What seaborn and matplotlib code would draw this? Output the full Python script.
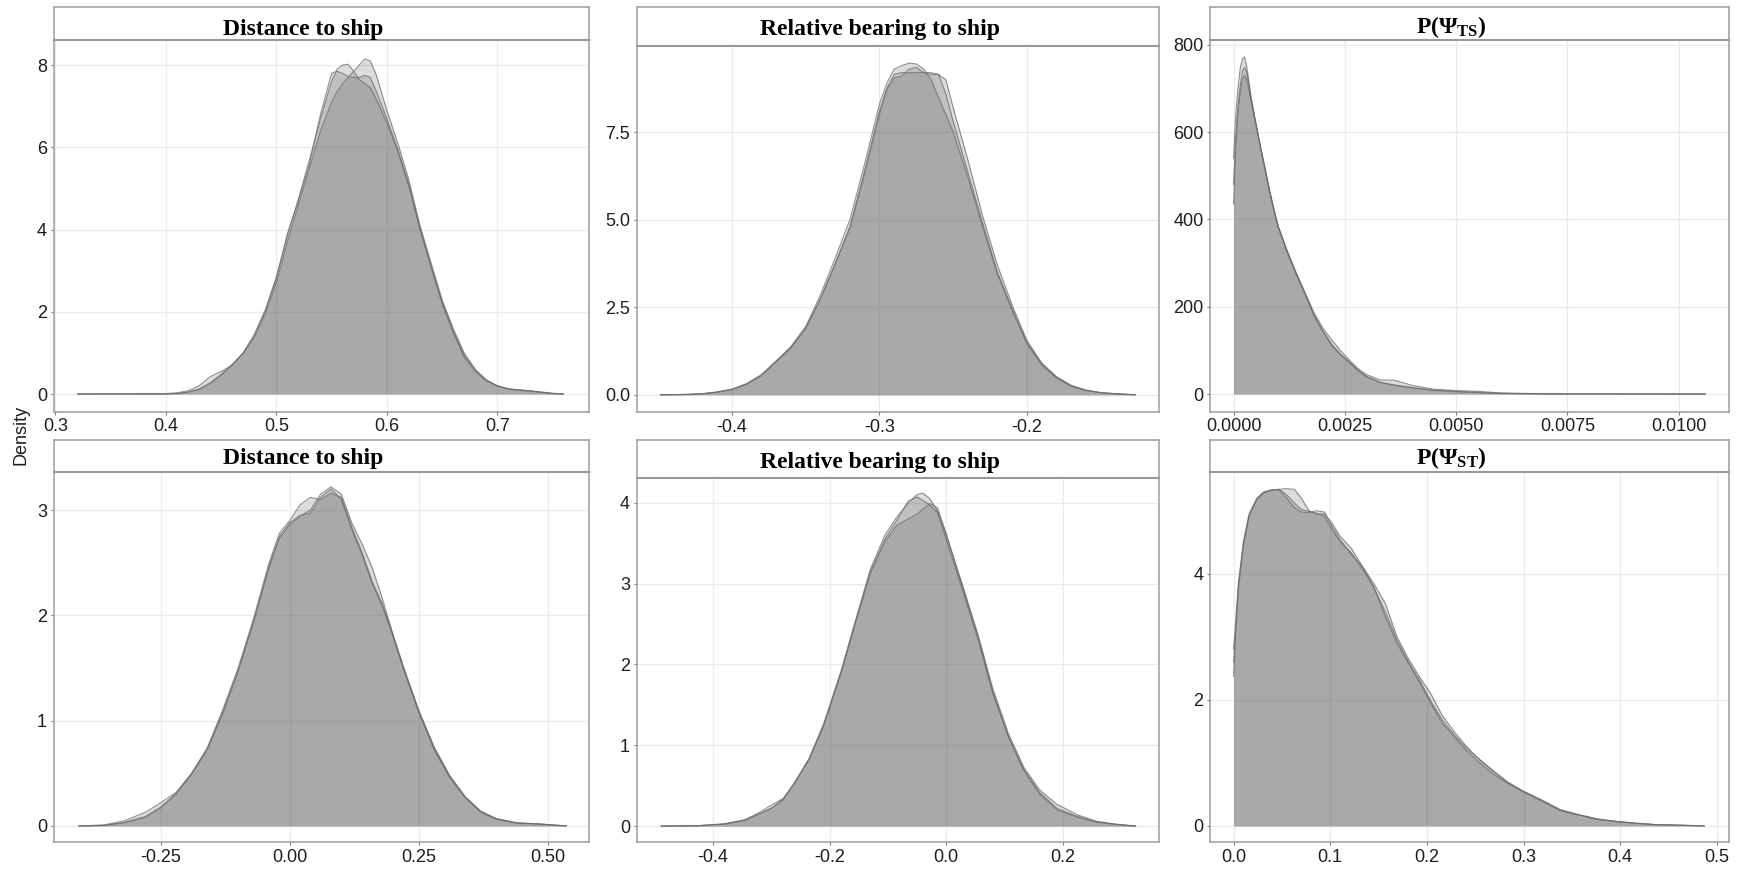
import matplotlib
matplotlib.use("Agg")
import matplotlib.pyplot as plt
import seaborn as sns

# ---------------- data ----------------
# Panel 1: Distance to ship (top)
dist_top_x = [0.32, 0.40, 0.41, 0.42, 0.43, 0.44, 0.45, 0.46, 0.47, 0.48, 0.49, 0.50, 0.51, 0.52,
              0.53, 0.54, 0.55, 0.555, 0.56, 0.565, 0.57, 0.575, 0.58, 0.585, 0.59, 0.60, 0.61,
              0.62, 0.63, 0.64, 0.65, 0.66, 0.67, 0.68, 0.69, 0.70, 0.71, 0.72, 0.73, 0.74, 0.75, 0.76]
dist_top_c1 = [0, 0, 0.01, 0.05, 0.12, 0.27, 0.48, 0.72, 1.0, 1.4, 2.0, 2.8, 3.9, 4.7,
               5.6, 6.8, 7.8, 7.85, 7.8, 7.72, 7.7, 7.7, 7.75, 7.7, 7.4, 6.7, 5.95,
               5.1, 4.0, 3.1, 2.2, 1.5, 0.9, 0.55, 0.32, 0.2, 0.12, 0.1, 0.08, 0.05, 0.02, 0.0]
dist_top_c2 = [0, 0.01, 0.03, 0.08, 0.2, 0.42, 0.55, 0.7, 1.0, 1.45, 2.05, 2.85, 3.85, 4.75,
               5.7, 6.7, 7.6, 7.9, 8.0, 8.02, 7.85, 7.65, 7.55, 7.45, 7.2, 6.6, 5.9,
               5.05, 4.05, 3.1, 2.25, 1.55, 0.95, 0.6, 0.35, 0.2, 0.13, 0.1, 0.07, 0.04, 0.01, 0.0]
dist_top_c3 = [0, 0, 0.01, 0.04, 0.11, 0.25, 0.45, 0.7, 0.98, 1.38, 1.95, 2.7, 3.7, 4.6,
               5.5, 6.4, 7.1, 7.35, 7.55, 7.7, 7.85, 8.0, 8.15, 8.1, 7.8, 6.9, 6.1,
               5.2, 4.1, 3.2, 2.3, 1.6, 1.0, 0.6, 0.33, 0.2, 0.12, 0.09, 0.07, 0.04, 0.01, 0.0]

# Panel 2: Relative bearing to ship (top)
bear_top_x = [-0.4485, -0.43, -0.42, -0.41, -0.40, -0.39, -0.38, -0.37, -0.36, -0.35, -0.34, -0.33,
              -0.32, -0.31, -0.30, -0.295, -0.29, -0.285, -0.28, -0.275, -0.27, -0.265, -0.26,
              -0.255, -0.25, -0.24, -0.23, -0.22, -0.21, -0.20, -0.19, -0.18, -0.17, -0.16,
              -0.15, -0.14, -0.1265]
bear_top_c1 = [0, 0.01, 0.03, 0.08, 0.15, 0.3, 0.55, 0.95, 1.35, 1.9, 2.75, 3.75,
               4.8, 6.4, 8.1, 8.75, 9.15, 9.2, 9.2, 9.2, 9.2, 9.2, 9.15,
               8.6, 7.8, 6.35, 4.9, 3.5, 2.45, 1.45, 0.85, 0.48, 0.24, 0.12,
               0.06, 0.03, 0]
bear_top_c2 = [0, 0.01, 0.03, 0.08, 0.16, 0.32, 0.58, 0.97, 1.38, 1.95, 2.85, 3.9,
               5.0, 6.6, 8.3, 8.9, 9.3, 9.4, 9.47, 9.45, 9.3, 9.0, 8.5,
               8.0, 7.5, 6.2, 4.8, 3.45, 2.4, 1.5, 0.9, 0.52, 0.27, 0.13,
               0.06, 0.03, 0]
bear_top_c3 = [0, 0.01, 0.03, 0.07, 0.15, 0.3, 0.54, 0.93, 1.33, 1.88, 2.72, 3.72,
               4.75, 6.3, 8.0, 8.7, 9.05, 9.1, 9.3, 9.35, 9.2, 9.15, 9.15,
               9.0, 8.2, 6.7, 5.1, 3.7, 2.55, 1.55, 0.9, 0.5, 0.26, 0.13,
               0.06, 0.03, 0]

# Panel 3: P(Psi_TS)
psits_x = [0.0, 0.00005, 0.0001, 0.00015, 0.0002, 0.00025, 0.0003, 0.00035, 0.0004, 0.0005,
           0.0006, 0.0007, 0.0008, 0.0009, 0.001, 0.0012, 0.0014, 0.0016, 0.0018, 0.002,
           0.0022, 0.0024, 0.0026, 0.0028, 0.003, 0.0033, 0.0036, 0.004, 0.0045, 0.005,
           0.0055, 0.006, 0.0065, 0.007, 0.008, 0.009, 0.0106]
psits_c1 = [480, 590, 660, 705, 740, 748, 735, 705, 675, 620,
            568, 520, 470, 425, 385, 328, 278, 232, 183, 146,
            115, 92, 74, 55, 40, 27, 21, 15, 9, 6,
            4, 1.5, 0.8, 0.3, 0.1, 0.05, 0]
psits_c2 = [540, 640, 700, 745, 768, 772, 748, 712, 676, 622,
            570, 522, 472, 427, 386, 330, 280, 234, 188, 152,
            125, 100, 78, 58, 44, 32, 32, 20, 11, 8,
            6, 2.5, 1.5, 0.5, 0.2, 0.05, 0]
psits_c3 = [435, 560, 640, 690, 722, 730, 718, 695, 668, 618,
            566, 518, 468, 423, 383, 326, 276, 230, 181, 144,
            112, 90, 72, 53, 38, 26, 20, 14, 8, 5,
            3, 1.2, 0.6, 0.2, 0.1, 0.05, 0]

# Panel 4: Distance to ship (bottom)
dist_bot_x = [-0.409, -0.36, -0.32, -0.28, -0.25, -0.22, -0.19, -0.16, -0.13, -0.10, -0.07, -0.04,
              -0.02, 0.0, 0.02, 0.04, 0.06, 0.08, 0.10, 0.12, 0.14, 0.16, 0.18, 0.20, 0.22,
              0.25, 0.28, 0.31, 0.34, 0.37, 0.40, 0.44, 0.48, 0.536]
dist_bot_c1 = [0, 0.005, 0.035, 0.09, 0.18, 0.31, 0.5, 0.73, 1.08, 1.48, 1.95, 2.47,
               2.75, 2.88, 2.95, 2.97, 3.12, 3.2, 3.1, 2.82, 2.58, 2.3, 2.08, 1.8, 1.5,
               1.09, 0.74, 0.47, 0.27, 0.13, 0.065, 0.025, 0.02, 0]
dist_bot_c2 = [0, 0.01, 0.05, 0.13, 0.22, 0.32, 0.5, 0.74, 1.1, 1.5, 1.97, 2.5,
               2.78, 2.9, 3.05, 3.12, 3.1, 3.16, 3.12, 2.84, 2.6, 2.32, 2.1, 1.82, 1.52,
               1.1, 0.75, 0.48, 0.28, 0.14, 0.07, 0.03, 0.02, 0]
dist_bot_c3 = [0, 0.005, 0.03, 0.08, 0.17, 0.3, 0.49, 0.72, 1.06, 1.46, 1.93, 2.45,
               2.73, 2.86, 2.94, 3.0, 3.15, 3.22, 3.15, 2.88, 2.68, 2.45, 2.15, 1.82, 1.5,
               1.08, 0.72, 0.46, 0.27, 0.14, 0.07, 0.03, 0.02, 0]

# Panel 5: Relative bearing to ship (bottom)
bear_bot_x = [-0.489, -0.425, -0.38, -0.345, -0.32, -0.30, -0.28, -0.26, -0.235, -0.21, -0.18,
              -0.155, -0.13, -0.105, -0.085, -0.065, -0.05, -0.04, -0.028, -0.015, 0.0, 0.028,
              0.055, 0.08, 0.107, 0.133, 0.16, 0.19, 0.225, 0.258, 0.29, 0.325]
bear_bot_c1 = [0, 0.005, 0.025, 0.075, 0.155, 0.22, 0.32, 0.53, 0.82, 1.24, 1.9,
               2.52, 3.12, 3.52, 3.72, 3.8, 3.86, 3.92, 3.99, 3.94, 3.62, 2.96,
               2.33, 1.66, 1.1, 0.69, 0.4, 0.2, 0.11, 0.05, 0.025, 0]
bear_bot_c2 = [0, 0.005, 0.025, 0.07, 0.15, 0.22, 0.33, 0.54, 0.84, 1.27, 1.93,
               2.56, 3.18, 3.6, 3.82, 4.0, 4.1, 4.12, 4.05, 3.9, 3.6, 2.98,
               2.36, 1.7, 1.14, 0.73, 0.45, 0.27, 0.14, 0.06, 0.025, 0]
bear_bot_c3 = [0, 0.006, 0.03, 0.08, 0.17, 0.26, 0.34, 0.53, 0.83, 1.25, 1.9,
               2.54, 3.15, 3.55, 3.78, 4.02, 4.07, 4.03, 3.97, 3.88, 3.55, 2.92,
               2.3, 1.64, 1.1, 0.7, 0.42, 0.22, 0.12, 0.05, 0.02, 0]

# Panel 6: P(Psi_ST)
psist_x = [0.0, 0.002, 0.005, 0.01, 0.016, 0.024, 0.031, 0.039, 0.047, 0.055, 0.063, 0.07, 0.078,
           0.086, 0.094, 0.102, 0.11, 0.122, 0.134, 0.145, 0.157, 0.169, 0.181, 0.193, 0.204,
           0.216, 0.228, 0.24, 0.251, 0.267, 0.283, 0.299, 0.318, 0.338, 0.357, 0.377, 0.397,
           0.416, 0.436, 0.464, 0.487]
psist_c1 = [2.37, 3.0, 3.75, 4.43, 4.91, 5.17, 5.28, 5.33, 5.34, 5.25, 5.12, 5.02, 4.99,
            4.96, 4.91, 4.7, 4.51, 4.33, 4.06, 3.8, 3.32, 2.9, 2.58, 2.26, 1.95,
            1.63, 1.42, 1.21, 1.05, 0.84, 0.68, 0.545, 0.41, 0.25, 0.175, 0.106, 0.069,
            0.042, 0.02, 0.01, 0]
psist_c2 = [2.6, 3.1, 3.8, 4.45, 4.92, 5.18, 5.28, 5.32, 5.34, 5.35, 5.34, 5.2, 5.0,
            4.95, 4.95, 4.8, 4.6, 4.4, 4.1, 3.85, 3.53, 3.0, 2.65, 2.35, 2.1,
            1.75, 1.5, 1.28, 1.1, 0.88, 0.7, 0.56, 0.42, 0.26, 0.18, 0.11, 0.07,
            0.045, 0.022, 0.01, 0]
psist_c3 = [2.8, 3.2, 3.85, 4.5, 4.95, 5.2, 5.3, 5.33, 5.33, 5.2, 5.05, 4.98, 4.97,
            5.0, 4.98, 4.75, 4.55, 4.3, 4.1, 3.78, 3.4, 2.95, 2.6, 2.3, 1.98,
            1.68, 1.45, 1.25, 1.1, 0.9, 0.7, 0.55, 0.4, 0.24, 0.17, 0.1, 0.066,
            0.04, 0.02, 0.01, 0]

titles = ["Distance to ship", "Relative bearing to ship", "P(Ψ$_{\\mathbf{TS}}$)",
          "Distance to ship", "Relative bearing to ship", "P(Ψ$_{\\mathbf{ST}}$)"]

x_ticks = [[0.3, 0.4, 0.5, 0.6, 0.7], [-0.4, -0.3, -0.2], [0.0, 0.0025, 0.005, 0.0075, 0.01],
           [-0.25, 0.0, 0.25, 0.5], [-0.4, -0.2, 0.0, 0.2], [0.0, 0.1, 0.2, 0.3, 0.4, 0.5]]
x_labels = [["0.3", "0.4", "0.5", "0.6", "0.7"], ["-0.4", "-0.3", "-0.2"],
            ["0.0000", "0.0025", "0.0050", "0.0075", "0.0100"],
            ["-0.25", "0.00", "0.25", "0.50"], ["-0.4", "-0.2", "0.0", "0.2"],
            ["0.0", "0.1", "0.2", "0.3", "0.4", "0.5"]]
y_ticks = [[0, 2, 4, 6, 8], [0.0, 2.5, 5.0, 7.5], [0, 200, 400, 600, 800],
           [0, 1, 2, 3], [0, 1, 2, 3, 4], [0, 2, 4]]
y_labels = [["0", "2", "4", "6", "8"], ["0.0", "2.5", "5.0", "7.5"],
            ["0", "200", "400", "600", "800"], ["0", "1", "2", "3"],
            ["0", "1", "2", "3", "4"], ["0", "2", "4"]]

panels = [
    (dist_top_x, [dist_top_c1, dist_top_c2, dist_top_c3]),
    (bear_top_x, [bear_top_c1, bear_top_c2, bear_top_c3]),
    (psits_x, [psits_c1, psits_c2, psits_c3]),
    (dist_bot_x, [dist_bot_c1, dist_bot_c2, dist_bot_c3]),
    (bear_bot_x, [bear_bot_c1, bear_bot_c2, bear_bot_c3]),
    (psist_x, [psist_c1, psist_c2, psist_c3]),
]

# ---------------- layout (pixels) ----------------
W, H = 1745, 871
# (left, right, strip_top, panel_top, panel_bottom, text_baseline)
boxes = [
    (53.6, 589.0, 7.3, 40.0, 411.7, 35.0),
    (636.6, 1159.0, 7.3, 45.7, 412.3, 35.3),
    (1210.0, 1729.0, 7.3, 40.0, 411.7, 33.5),
    (53.6, 589.0, 440.0, 471.7, 842.3, 464.0),
    (636.6, 1159.0, 440.0, 477.7, 842.3, 468.0),
    (1210.0, 1729.0, 440.0, 472.3, 842.3, 464.0),
]
xlims = [(0.2983, 0.7831), (-0.4646, -0.1105), (-0.000528, 0.01113),
         (-0.4576, 0.58), (-0.531, 0.365), (-0.0244, 0.5126)]
ylims = [(-0.43, 8.61), (-0.5, 9.97), (-40.5, 811),
         (-0.155, 3.364), (-0.2, 4.31), (-0.26, 5.61)]

sns.set_theme(style="whitegrid")
plt.rcParams["font.family"] = ["Liberation Sans", "DejaVu Sans"]
plt.rcParams["mathtext.fontset"] = "custom"
plt.rcParams["mathtext.rm"] = "Liberation Serif"
plt.rcParams["mathtext.it"] = "Liberation Serif:italic"
plt.rcParams["mathtext.bf"] = "Liberation Serif:bold"
plt.rcParams["axes.unicode_minus"] = False

border = "#a4a4a4"
fig = plt.figure(figsize=(W / 100, H / 100), dpi=100)
fig.patch.set_facecolor("white")


def rect(l, r, t, b):
    return [l / W, 1 - b / H, (r - l) / W, (b - t) / H]


for i, (xs, chains) in enumerate(panels):
    l, r, st, pt, pb, base = boxes[i]
    ax = fig.add_axes(rect(l, r, pt, pb))
    ax.set_facecolor("white")
    for ys in chains:
        ax.fill_between(xs, ys, 0, color="#505050", alpha=0.2, linewidth=0, zorder=2)
    for ys in chains:
        sns.lineplot(x=xs, y=ys, ax=ax, color="#6a6a6a", linewidth=0.8, alpha=0.75,
                     sort=False, zorder=3)
    ax.set_xlim(*xlims[i])
    ax.set_ylim(*ylims[i])
    ax.set_xticks(x_ticks[i])
    ax.set_xticklabels(x_labels[i])
    ax.set_yticks(y_ticks[i])
    ax.set_yticklabels(y_labels[i])
    ax.set_xlabel("")
    ax.set_ylabel("")
    ax.grid(True, color="#ebebeb", linewidth=1.0, zorder=0)
    ax.set_axisbelow(True)
    ax.tick_params(axis="both", which="major", length=2.2, width=0.8, color="#777777",
                   labelsize=13, labelcolor="#1e1e1e", pad=2.5, bottom=True, left=True)
    for lab in ax.get_xticklabels() + ax.get_yticklabels():
        lab.set_fontfamily("Liberation Sans")
    for sp in ax.spines.values():
        sp.set_color(border)
        sp.set_linewidth(1.2)
        sp.set_visible(True)

    # strip
    sax = fig.add_axes(rect(l, r, st, pt))
    sax.set_facecolor("white")
    sax.set_xticks([])
    sax.set_yticks([])
    sax.grid(False)
    for sp in sax.spines.values():
        sp.set_color(border)
        sp.set_linewidth(1.2)
    sax.spines["bottom"].set_color("#999999")
    sax.spines["bottom"].set_linewidth(1.5)
    cx = ((l + r) / 2 - 18 - l) / (r - l)
    by = (pt - base) / (pt - st)
    sax.text(cx, by, titles[i], transform=sax.transAxes, ha="center", va="baseline",
             fontsize=17, fontweight="bold", fontfamily="Liberation Serif", color="black")

fig.text(20.7 / W, 1 - 435 / H, "Density", rotation=90, ha="center", va="center",
         fontsize=13, fontfamily="Liberation Sans", color="#1e1e1e")

fig.savefig("out.png", dpi=100, facecolor="white")
